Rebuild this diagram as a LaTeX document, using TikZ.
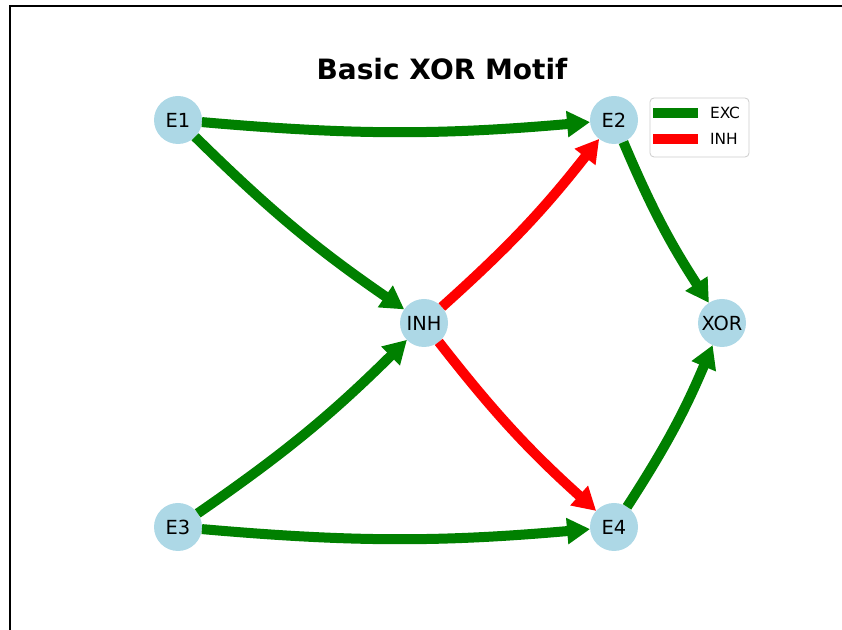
\documentclass[tikz,border=0pt]{standalone}
\usepackage{fontspec}
\setmainfont{DejaVu Sans}
\usetikzlibrary{arrows.meta}
\definecolor{lightblue}{RGB}{173,216,230}
\definecolor{excgreen}{RGB}{0,128,0}
\definecolor{inhred}{RGB}{255,0,0}

\begin{document}
\begin{tikzpicture}[x=0.5pt, y=-0.5pt,
    main/.style = {circle, fill=lightblue, minimum size=24pt, inner sep=0pt, outer sep=0pt, font=\fontsize{9.7}{11}\selectfont},
    exc/.style = {draw=excgreen, line width=5pt, -{Triangle[length=11.5pt,width=12.5pt]}, bend right=5},
    inh/.style = {exc, draw=inhred}]
    \useasboundingbox (0,0) rectangle (842,630);
    \draw[line width=1.3pt] (10,630) -- (10,6) -- (842,6);

    \node[font=\bfseries\fontsize{14}{16}\selectfont] (title) at (442,69) {Basic XOR Motif};

    \node[main] (e1) at (178,120) {E1};
    \node[main] (e2) at (614,120) {E2};
    \node[main] (inh) at (424,323) {INH};
    \node[main] (xor) at (722,323) {XOR};
    \node[main] (e3) at (178,527) {E3};
    \node[main] (e4) at (614,527) {E4};

    \draw[exc] (e1) to (e2);
    \draw[exc] (e1) to (inh);
    \draw[exc] (e3) to (inh);
    \draw[exc] (e3) to (e4);
    \draw[inh] (inh) to (e2);
    \draw[inh] (inh) to (e4);
    \draw[exc] (e2) to (xor);
    \draw[exc] (e4) to (xor);

    % legend
    \draw[rounded corners=2pt, draw=black!20, fill=white] (650,98) rectangle (749,157);
    \draw[excgreen, line width=5pt] (653,113) -- (698,113);
    \draw[inhred, line width=5pt] (653,139) -- (698,139);
    \node[anchor=west, font=\fontsize{7.7}{9}\selectfont] (lexc) at (703,113) {EXC};
    \node[anchor=west, font=\fontsize{7.7}{9}\selectfont] (linh) at (703,139) {INH};
\end{tikzpicture}
\end{document}
